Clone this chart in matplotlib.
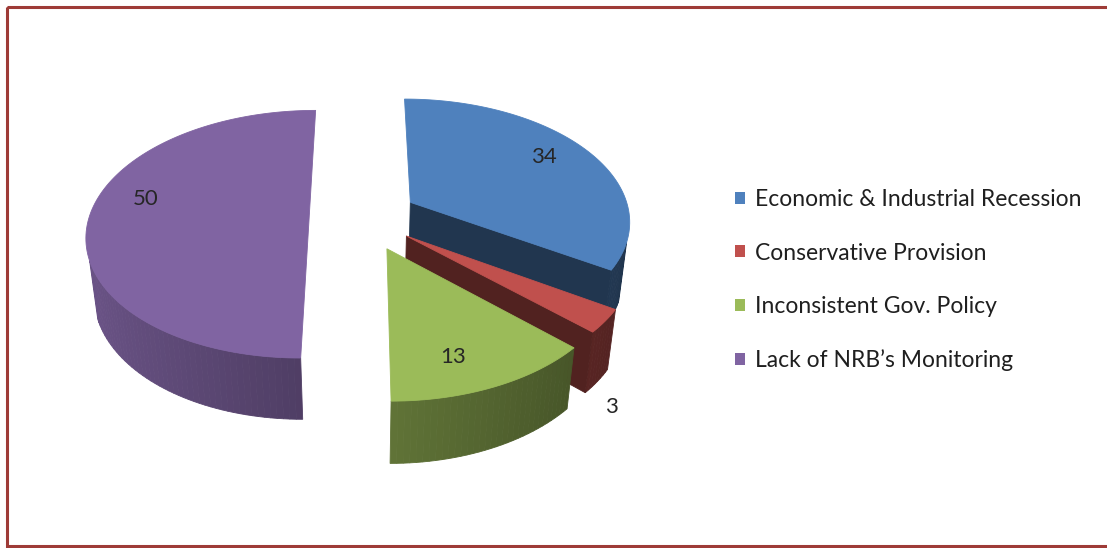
import numpy as np
import matplotlib.pyplot as plt
from matplotlib.patches import Polygon, Rectangle
from matplotlib.colors import to_rgb

# Data
labels = ['Economic & Industrial Recession', 'Conservative Provision',
          'Inconsistent Gov. Policy', 'Lack of NRB\u2019s Monitoring']
values = [34, 3, 13, 50]
colors = ['#4F81BD', '#C0504D', '#9BBB59', '#8064A2']
explode = [0.255, 0.25, 0.275, 0.24]

# Canvas in pixel units, pie drawn with a simple perspective camera
W, H = 1107, 548
CX, CY, R = 362, 217, 220
ELEV = np.radians(33.5)
DIST = 6.0
DEPTH = 0.32
START = 90
FONT = 'Lato'
# label placement on the top face: radius, angle nudge (deg)
LABEL_R = 0.78
LABEL_NUDGE = [3, 0, -5, -11]

cam = np.array([0.0, DIST * np.sin(ELEV), -DIST * np.cos(ELEV)])


def project(p):
    p = np.atleast_2d(p)
    x, y, z = p[:, 0], p[:, 1], p[:, 2]
    v = y * np.cos(ELEV) + z * np.sin(ELEV)
    w = z * np.cos(ELEV) - y * np.sin(ELEV)
    s = DIST / (DIST + w)
    return np.column_stack([CX + R * x * s, CY - R * v * s])


def depth(p):
    return p[2] * np.cos(ELEV) - p[1] * np.sin(ELEV)


def shade(c, f):
    return tuple(np.clip(np.array(to_rgb(c)) * f, 0, 1))


def rim(ox, oz, t, y):
    return np.array([ox + np.cos(t), y, oz + np.sin(t)])


def slice_faces(a1, a2, k, color):
    mid = np.radians((a1 + a2) / 2)
    ox, oz = k * np.cos(mid), k * np.sin(mid)
    t1, t2 = np.radians(a1), np.radians(a2)
    n = max(3, int(abs(a1 - a2) / 1.5) + 2)
    ts = np.linspace(t1, t2, n)
    faces = []
    apex_t = np.array([ox, 0, oz])
    apex_b = np.array([ox, -DEPTH, oz])

    # outer curved wall
    for ta, tb in zip(ts[:-1], ts[1:]):
        tm = (ta + tb) / 2
        normal = np.array([np.cos(tm), 0, np.sin(tm)])
        quad = np.array([rim(ox, oz, ta, 0), rim(ox, oz, tb, 0),
                         rim(ox, oz, tb, -DEPTH), rim(ox, oz, ta, -DEPTH)])
        f = 0.62 + 0.22 * (-np.cos(tm))
        faces.append((quad, normal, shade(color, f)))

    # flat cut faces
    for t, sgn in ((t1, 1), (t2, -1)):
        na = t + sgn * np.pi / 2
        normal = np.array([np.cos(na), 0, np.sin(na)])
        quad = np.array([apex_t, rim(ox, oz, t, 0), rim(ox, oz, t, -DEPTH), apex_b])
        faces.append((quad, normal, shade(color, 0.42)))

    # top face
    top = np.vstack([apex_t] + [rim(ox, oz, t, 0) for t in ts])
    faces.append((top, np.array([0, 1.0, 0]), to_rgb(color)))
    return faces, (ox, oz), mid


fig = plt.figure(figsize=(W / 100, H / 100), dpi=100)
ax = fig.add_axes([0, 0, 1, 1])
ax.set_xlim(0, W)
ax.set_ylim(H, 0)
ax.axis('off')

total = sum(values)
bounds = np.concatenate([[0], np.cumsum(values)]) / total * 360
slices = []
for i, v in enumerate(values):
    a1 = START - bounds[i]
    a2 = START - bounds[i + 1]
    faces, (ox, oz), mid = slice_faces(a1, a2, explode[i], colors[i])
    centre = np.array([ox + 0.5 * np.cos(mid), 0, oz + 0.5 * np.sin(mid)])
    slices.append((depth(centre), faces, i, (ox, oz), mid))

# far slices first; skip faces turned away or seen nearly edge-on
for _, faces, i, _, _ in sorted(slices, key=lambda s: -s[0]):
    for verts, normal, fc in faces:
        centre = verts.mean(axis=0)
        view = cam - centre
        if normal[1] == 0 and np.dot(normal, view / np.linalg.norm(view)) <= 0.08:
            continue
        ax.add_patch(Polygon(project(verts), closed=True, fc=fc, ec=fc, lw=0.6))

# value labels
for _, faces, i, (ox, oz), mid in slices:
    if values[i] < 5:
        r, y, a = 1.08, -DEPTH - 0.1, mid
    else:
        r, y, a = LABEL_R, 0, mid + np.radians(LABEL_NUDGE[i])
    p = np.array([ox + r * np.cos(a), y, oz + r * np.sin(a)])
    x_s, y_s = project(p)[0]
    ax.text(x_s, y_s, str(values[i]), ha='center', va='center',
            fontsize=16, family=FONT, color='#262626')

# frame
ax.add_patch(Rectangle((7, 7), W + 20, 539, fill=False, ec='#9E3B37', lw=2.2))

handles = [Rectangle((0, 0), 1, 1, fc=c, ec='none') for c in colors]
ax.legend(handles, labels, loc='upper left', bbox_to_anchor=(735 / W, 1 - 189 / H),
          frameon=False, prop={'family': FONT, 'size': 16.5},
          handlelength=0.44, handleheight=0.44, handletextpad=0.44,
          labelspacing=1.42, borderpad=0, borderaxespad=0,
          labelcolor='#1F1F1F')

fig.savefig('out.png', dpi=100, facecolor='white')
